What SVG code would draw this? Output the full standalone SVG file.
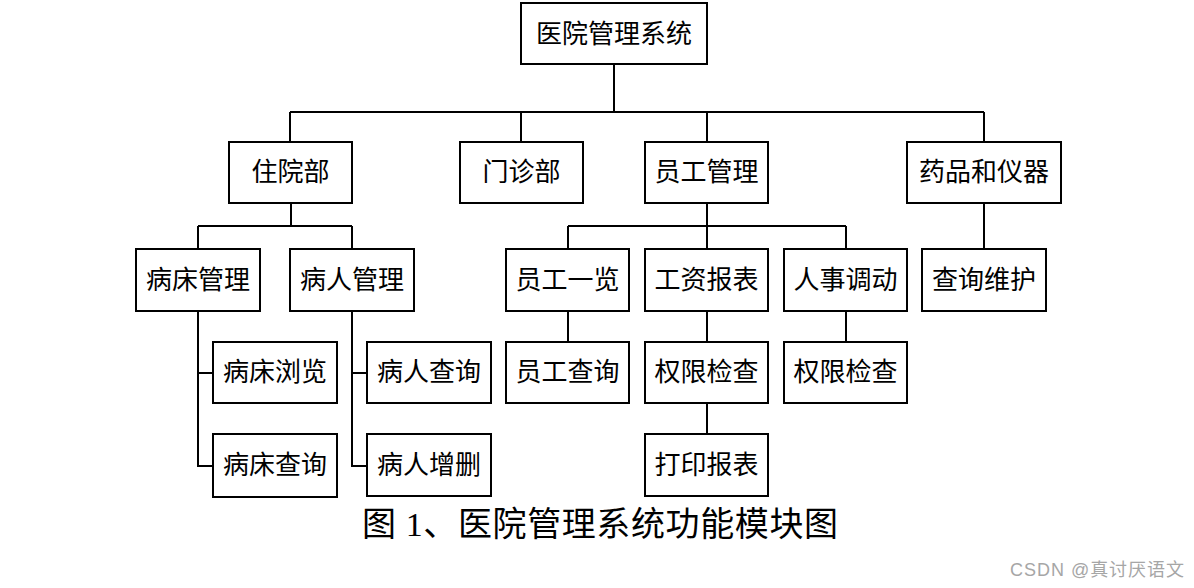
<svg xmlns="http://www.w3.org/2000/svg" width="1194" height="588" viewBox="0 0 1194 588">
<style>
.box{fill:#fff;stroke:#000;stroke-width:2}
.t{font-family:"Liberation Serif","Noto Sans CJK SC",serif;font-size:26px;text-anchor:middle;dominant-baseline:central;fill:#000}
.c{fill:none;stroke:#000;stroke-width:2}
.cap{font-family:"Liberation Serif","Noto Sans CJK SC",serif;font-size:34px;fill:#000}
.wm{font-family:"Liberation Sans","Noto Sans CJK SC",sans-serif;font-size:18px;fill:#a6a6a6}
</style>
<rect width="1194" height="588" fill="#fff"/>
<g id="connectors">
<path class="c" d="M614 64V112M290 112H984M290 112V142M521 112V142M707 112V142M984 112V142"/>
<path class="c" d="M291 203V226M198 226H352M198 226V249M352 226V249"/>
<path class="c" d="M198 311V466H213M198 373H213M352 311V466H367M352 373H367"/>
<path class="c" d="M707 203V249M568 226H846M568 226V249M846 226V249"/>
<path class="c" d="M984 203V249"/>
<path class="c" d="M568 311V342M707 311V342M846 311V342M707 403V434"/>
</g>
<g id="n-root"><rect class="box" x="521" y="3" width="186" height="61"/><text class="t" x="614" y="34">医院管理系统</text></g>
<g id="n-zyb"><rect class="box" x="229" y="142" width="123" height="61"/><text class="t" x="290.5" y="172.5">住院部</text></g>
<g id="n-mzb"><rect class="box" x="460" y="142" width="123" height="61"/><text class="t" x="521.5" y="172.5">门诊部</text></g>
<g id="n-yggl"><rect class="box" x="645" y="142" width="123" height="61"/><text class="t" x="706.5" y="172.5">员工管理</text></g>
<g id="n-ypyq"><rect class="box" x="907" y="142" width="154" height="61"/><text class="t" x="984" y="172.5">药品和仪器</text></g>
<g id="n-bcgl"><rect class="box" x="136" y="249" width="124" height="62"/><text class="t" x="198" y="280">病床管理</text></g>
<g id="n-brgl"><rect class="box" x="290" y="249" width="124" height="62"/><text class="t" x="352" y="280">病人管理</text></g>
<g id="n-ygyl"><rect class="box" x="506" y="249" width="123" height="62"/><text class="t" x="567.5" y="280">员工一览</text></g>
<g id="n-gzbb"><rect class="box" x="645" y="249" width="123" height="62"/><text class="t" x="706.5" y="280">工资报表</text></g>
<g id="n-rsdd"><rect class="box" x="784" y="249" width="123" height="62"/><text class="t" x="845.5" y="280">人事调动</text></g>
<g id="n-cxwh"><rect class="box" x="922" y="249" width="124" height="62"/><text class="t" x="984" y="280">查询维护</text></g>
<g id="n-bcll"><rect class="box" x="213" y="342" width="124" height="61"/><text class="t" x="275" y="372.5">病床浏览</text></g>
<g id="n-brcx"><rect class="box" x="367" y="342" width="124" height="61"/><text class="t" x="429" y="372.5">病人查询</text></g>
<g id="n-ygcx"><rect class="box" x="506" y="342" width="123" height="61"/><text class="t" x="567.5" y="372.5">员工查询</text></g>
<g id="n-qxjc1"><rect class="box" x="645" y="342" width="123" height="61"/><text class="t" x="706.5" y="372.5">权限检查</text></g>
<g id="n-qxjc2"><rect class="box" x="784" y="342" width="123" height="61"/><text class="t" x="845.5" y="372.5">权限检查</text></g>
<g id="n-bccx"><rect class="box" x="213" y="434" width="124" height="63"/><text class="t" x="275" y="465.5">病床查询</text></g>
<g id="n-brzs"><rect class="box" x="367" y="434" width="124" height="62"/><text class="t" x="429" y="465">病人增删</text></g>
<g id="n-dybb"><rect class="box" x="645" y="434" width="123" height="62"/><text class="t" x="706.5" y="465">打印报表</text></g>
<text class="cap" x="362" y="536" textLength="476">图 1、医院管理系统功能模块图</text>
<text class="wm" x="1010" y="576" textLength="174">CSDN @真讨厌语文</text>
</svg>
